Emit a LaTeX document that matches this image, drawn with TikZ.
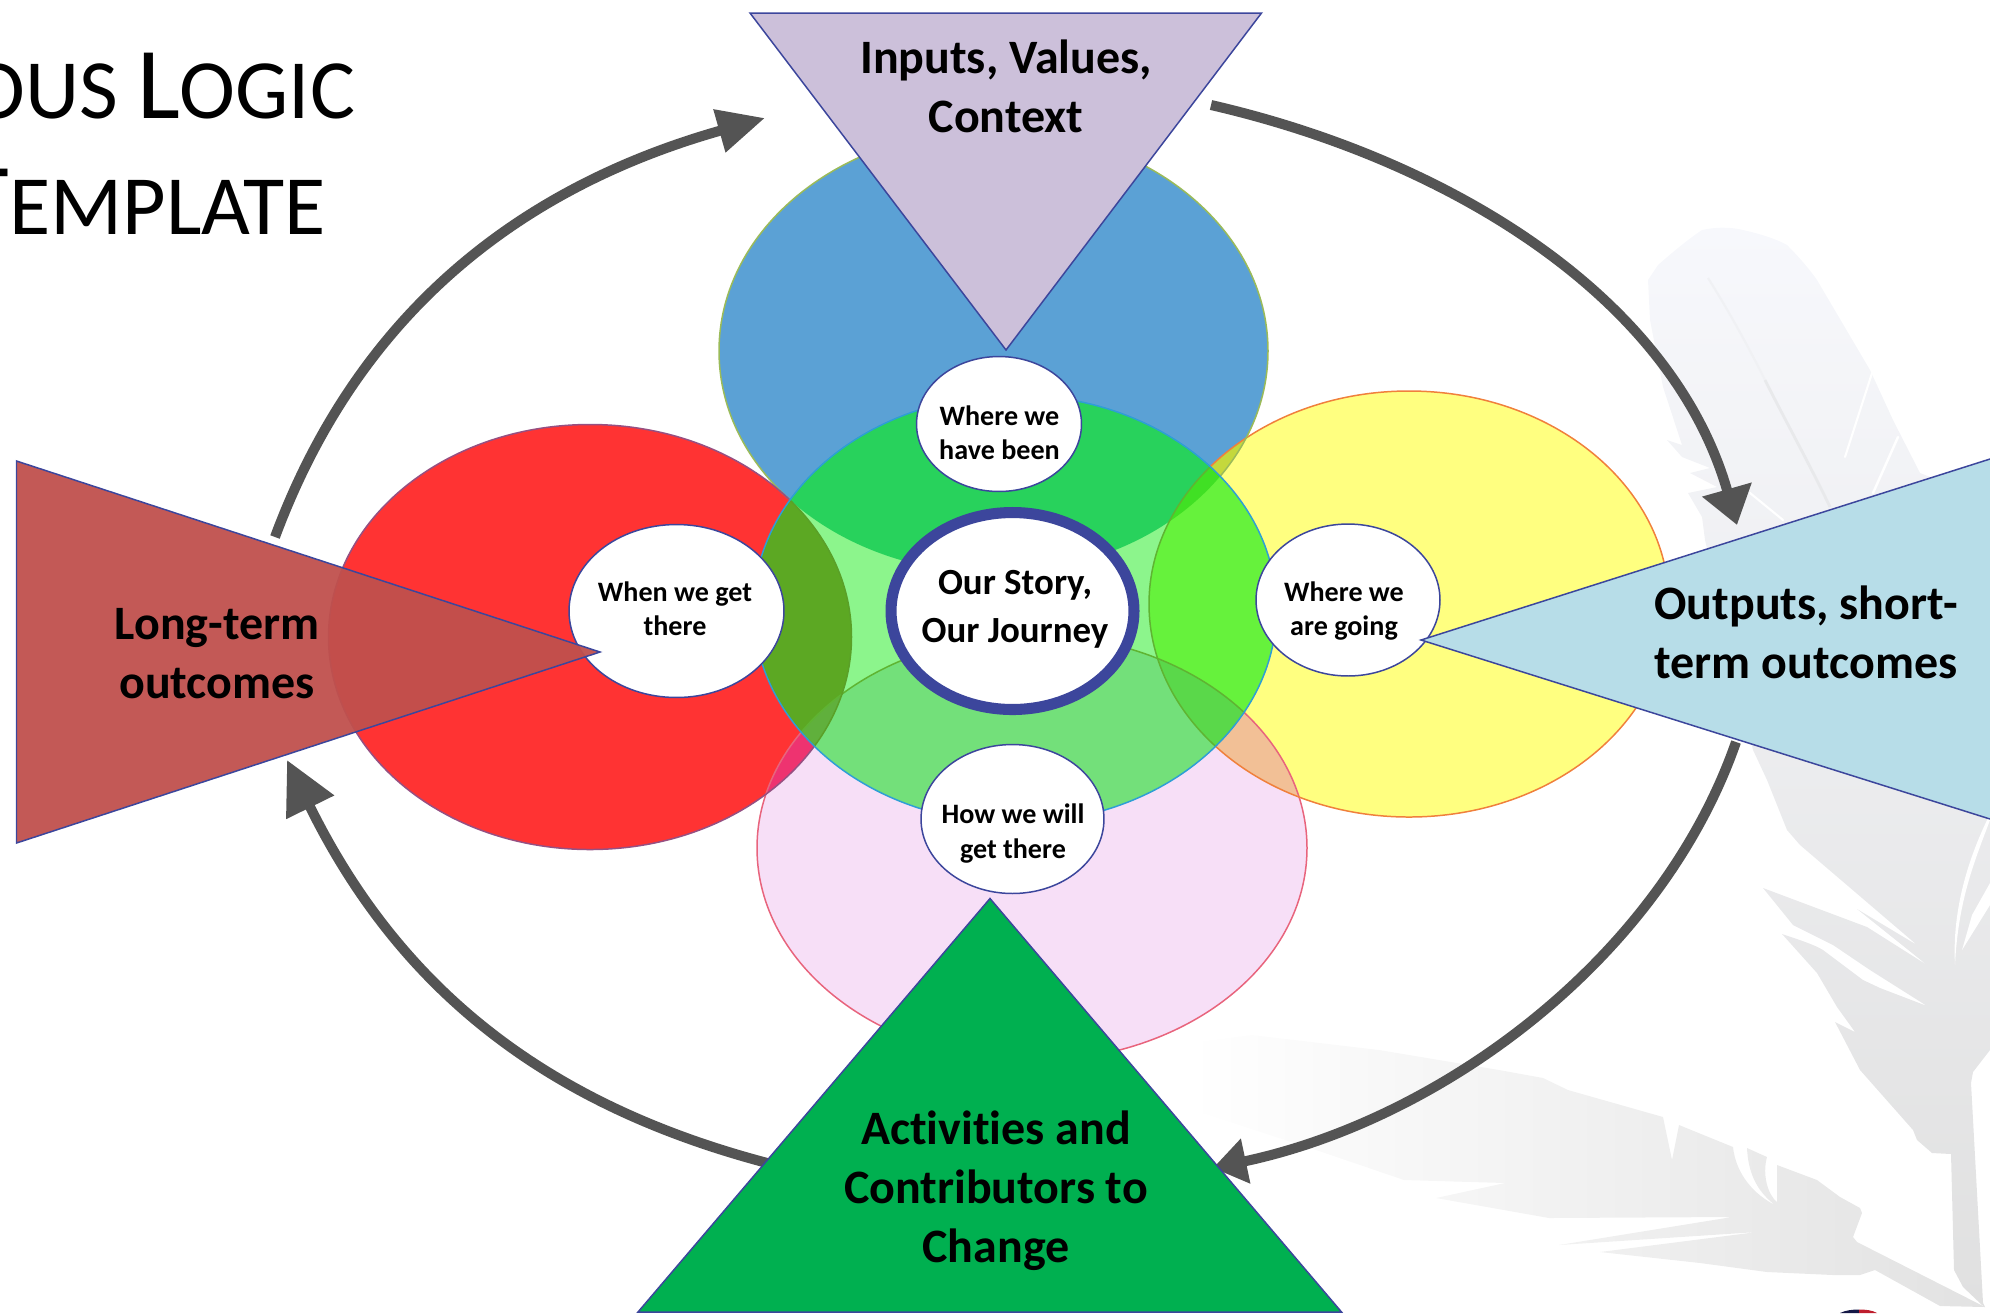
\documentclass[tikz,border=0pt]{standalone}
\usepackage{fontspec}
\setmainfont[Ligatures=CommonOff]{Carlito}
\usetikzlibrary{arrows.meta,shapes.geometric}
\definecolor{cPink}{HTML}{F7DFF7}
\definecolor{cYellow}{HTML}{FFFF80}
\definecolor{cBlue}{HTML}{5BA1D5}
\definecolor{cRed}{HTML}{FF3333}
\definecolor{cGreen}{HTML}{8CF58C}
\definecolor{cNavy}{HTML}{3C469C}
\definecolor{cArrow}{HTML}{545454}
\definecolor{fTop}{HTML}{F7F8FC}
\definecolor{fMid}{HTML}{E6E6E8}
\definecolor{fBot}{HTML}{E0E0E0}
\definecolor{fShaft}{HTML}{F0F1F4}
\definecolor{fShaftB}{HTML}{E8E9EB}
\definecolor{gLeft}{HTML}{FFFFFF}
\definecolor{gMid}{HTML}{F4F4F4}
\definecolor{gRight}{HTML}{E2E2E2}
\definecolor{logoA}{HTML}{141846}
\definecolor{logoB}{HTML}{BE1E2D}
\definecolor{ovPY}{HTML}{F2C096}
\definecolor{ovPR}{HTML}{EE3370}
\definecolor{ovBY}{HTML}{C4D83C}
\definecolor{edPink}{HTML}{E8647D}
\definecolor{edYellow}{HTML}{F0803C}
\definecolor{edBlue}{HTML}{9BBB59}
\definecolor{edRed}{HTML}{965082}
\definecolor{edGreen}{HTML}{2E9ED6}
\definecolor{gnP}{HTML}{73E07A}
\definecolor{gnB}{HTML}{28D25C}
\definecolor{gnY}{HTML}{66F23C}
\definecolor{gnYP}{HTML}{5AD84A}
\definecolor{gnYB}{HTML}{40E024}
\definecolor{gnR}{HTML}{5CA823}
\definecolor{gnRP}{HTML}{60B03C}
\definecolor{gnEdge}{HTML}{5FB432}
\definecolor{gnEdgeR}{HTML}{5AA028}
\definecolor{triLilac}{HTML}{CCC0DA}
\definecolor{triRed}{HTML}{C0504D}
\definecolor{triSky}{HTML}{B7DDE8}
\definecolor{triGreen}{HTML}{00B050}
\def\elPink{(1032,848) ellipse [x radius=275,y radius=213]}
\def\elYellow{(1409,604) ellipse [x radius=260,y radius=213]}
\def\elBlue{(993.5,351) ellipse [x radius=274.5,y radius=222]}
\def\elRed{(590,637) ellipse [x radius=261.5,y radius=212.5]}
\def\elGreen{(1015,609) ellipse [x radius=261.5,y radius=214]}
\tikzset{
  thinedge/.style={line width=0.85pt},
  tri/.style={draw=cNavy,line width=0.85pt,line join=miter},
  flow/.style={draw=cArrow,line width=5.7pt},
  bubble/.style={ellipse,draw=cNavy,fill=white,line width=0.85pt,inner sep=0pt},
  bigtxt/.style={align=center,inner sep=0pt,font=\fontsize{27.3}{33.6}\selectfont\bfseries},
  midtxt/.style={align=center,inner sep=0pt,font=\fontsize{21}{27.4}\selectfont\bfseries},
  smalltxt/.style={align=center,inner sep=0pt,font=\fontsize{16}{19.4}\selectfont\bfseries},
  slit/.style={draw=white,line cap=round}
}
\begin{document}
\begin{tikzpicture}[x=0.02cm,y=-0.02cm]
\useasboundingbox (0,0) rectangle (1990,1313);
\clip (0,0) rectangle (1990,1313);
% feathers
\path[top color=fTop,middle color=fMid,bottom color=fBot]
  (1648,280) -- (1658,265) .. controls (1675,250) and (1690,238) .. (1702,230)
  .. controls (1720,226) and (1735,228) .. (1743,230) .. controls (1765,235) and (1778,240) .. (1787,245)
  .. controls (1800,258) and (1810,270) .. (1817,280) -- (1870,370) -- (1893,420) -- (1920,473) -- (1990,500)
  -- (1990,1050) -- (1973,1072) -- (1971,1083) -- (1983,1303) -- (1985,1307) -- (1982,1305) -- (1963,1287) -- (1954,1270)
  -- (1951,1154) -- (1932,1153) -- (1917,1140) -- (1913,1130) -- (1860,1070) -- (1835,1022) -- (1855,1032) -- (1837,1007)
  -- (1817,973) -- (1782,934) .. controls (1800,940) and (1815,945) .. (1823,950) -- (1863,980) -- (1880,988) -- (1927,1006)
  -- (1870,970) -- (1833,945) -- (1793,925) -- (1763,888) -- (1867,927) -- (1927,965) -- (1857,909) -- (1917,945)
  -- (1800,845) -- (1787,830) -- (1767,780) -- (1753,750) -- (1705,540) -- (1702,517) -- (1688,493) -- (1717,487) -- (1690,473)
  -- (1710,468) -- (1682,457) -- (1667,440) -- (1682,445) -- (1663,387) -- (1650,320) -- cycle;
\draw[slit,line width=1.2pt] (1872,373) -- (1845,457);
\draw[slit,line width=1.4pt] (1898,437) -- (1873,493);
\draw[slit,line width=1.2pt] (1750,493) -- (1783,520);
\fill[white] (1990,820) .. controls (1975,860) and (1958,900) .. (1955,965) .. controls (1953,930) and (1958,880) .. (1988,818) -- cycle;
\fill[white] (1990,883) -- (1972,915) -- (1962,950) -- (1990,905) -- cycle;
\draw[draw=fShaft,line width=1.2pt] (1708,278) .. controls (1725,305) and (1745,340) .. (1765,380);
\draw[draw=fShaftB,line width=1.6pt] (1765,380) .. controls (1785,420) and (1810,465) .. (1830,507);
\path[left color=gLeft,middle color=gMid,right color=gRight]
  (1189,1043) -- (1252,1035) -- (1379,1050) -- (1499,1070) -- (1543,1078) -- (1568,1090) -- (1663,1117) -- (1672,1160) -- (1679,1125)
  -- (1733,1147) .. controls (1736,1175) and (1755,1195) .. (1775,1205) .. controls (1755,1190) and (1748,1170) .. (1747,1148)
  -- (1767,1157) .. controls (1762,1175) and (1768,1195) .. (1777,1202) -- (1777,1165) -- (1817,1180) -- (1840,1197) -- (1860,1208)
  -- (1862,1213) -- (1853,1237) -- (1857,1242) -- (1985,1307) -- (1940,1306) -- (1875,1270) -- (1860,1275) -- (1833,1275)
  -- (1767,1272) -- (1700,1263) -- (1600,1252) -- (1757,1232) -- (1559,1245) -- (1732,1217) -- (1549,1218) -- (1436,1198)
  -- (1505,1183) -- (1404,1180) -- (1316,1150) -- (1202,1113) -- cycle;
% cut-off logo at the foot of the page
\fill[logoA] (1840,1313) .. controls (1846,1310) and (1853,1309.5) .. (1859,1309.5) -- (1859,1313) -- cycle;
\fill[logoB] (1859,1313) -- (1859,1309.5) .. controls (1865,1309.5) and (1872,1310) .. (1877,1313) -- cycle;
% base ellipses
\fill[cPink] \elPink;
\fill[cYellow] \elYellow;
\fill[cBlue] \elBlue;
\fill[cRed] \elRed;
\begin{scope}\clip \elPink; \fill[ovPY] \elYellow; \fill[ovPR] \elRed; \end{scope}
\begin{scope}\clip \elBlue; \fill[ovBY] \elYellow; \end{scope}
\draw[thinedge,draw=edPink] \elPink;
\draw[thinedge,draw=edYellow] \elYellow;
\draw[thinedge,draw=edBlue] \elBlue;
\draw[thinedge,draw=edRed] \elRed;
% overlaps inside the central ellipse
\begin{scope}
  \clip \elGreen;
  \fill[cGreen] \elGreen;
  \fill[gnP] \elPink;
  \fill[gnB] \elBlue;
  \fill[gnY] \elYellow;
  \begin{scope}\clip \elYellow; \fill[gnYP] \elPink; \fill[gnYB] \elBlue; \end{scope}
  \fill[gnR] \elRed;
  \begin{scope}\clip \elRed; \fill[gnRP] \elPink; \end{scope}
  \draw[thinedge,draw=gnEdge] \elPink;
  \draw[thinedge,draw=gnEdge] \elYellow;
  \draw[thinedge,draw=gnEdgeR] \elRed;
\end{scope}
\draw[thinedge,draw=edGreen] \elGreen;
% white bubbles
\node[bubble,minimum width=3.30cm,minimum height=2.70cm] (been) at (999,424) {};
\node[bubble,minimum width=3.66cm,minimum height=2.98cm] (will) at (1012.5,819) {};
\node[bubble,minimum width=3.68cm,minimum height=3.04cm] (going) at (1348,600) {};
\node[bubble,minimum width=4.30cm,minimum height=3.46cm] (when) at (676.5,611) {};
\node[ellipse,draw=cNavy,fill=white,line width=6.3pt,inner sep=0pt,minimum width=4.86cm,minimum height=3.94cm] (story) at (1012.5,611) {};
% named ends of the flow arrows
\coordinate (ltS) at (275,537);
\coordinate (ltE) at (765,118);
\coordinate (rtS) at (1211,105);
\coordinate (rtE) at (1737,525);
\coordinate (rbS) at (1736,742);
\coordinate (rbE) at (1213,1168);
\coordinate (lbS) at (775,1165);
\coordinate (lbE) at (287,760);
\draw[flow,-{Triangle[length=27pt,width=24pt]}] (ltS) .. controls (363,300) and (535,183) .. (ltE);
\draw[flow,-{Triangle[length=21pt,width=28pt]}] (rtS) .. controls (1450,160) and (1672,297) .. (rtE);
\draw[flow,-{Triangle[length=19pt,width=25pt]}] (rbS) .. controls (1660,960) and (1440,1120) .. (rbE);
\draw[flow,-{Triangle[length=30pt,width=29pt]}] (lbS) .. controls (560,1110) and (405,1000) .. (lbE);
% triangles
\draw[tri,fill=triLilac] (750,13) -- (1261.5,13) -- (1006,350) -- cycle;
\fill[triRed,fill opacity=0.95] (16.5,461) -- (600,652) -- (16.5,843) -- cycle;
\draw[tri] (16.5,461) -- (600,652) -- (16.5,843) -- cycle;
\draw[tri,fill=triSky] (1990,459) -- (1421,640) -- (1990,819);
\draw[tri,fill=triGreen] (990,898.5) -- (1341.5,1312) -- (638,1312) -- cycle;
% texts
\node[bigtxt] (inputs) at (1006,86) {Inputs, Values,\\Context};
\node[bigtxt] (longterm) at (217,654) {Long-term\\outcomes};
\node[bigtxt] (outputs) at (1806,632) {Outputs, short-\\term outcomes};
\node[bigtxt] (activities) at (996,1190.5) {Activities and\\Contributors to\\Change};
\node[midtxt] (storytxt) at (1015,609.5) {Our Story,\\Our Journey};
\node[smalltxt] (beentxt) at (999.5,433) {Where we\\have been};
\node[smalltxt] (willtxt) at (1013,833.5) {How we will\\get there};
\node[smalltxt] (goingtxt) at (1344,611) {Where we\\are going};
\node[smalltxt] (whentxt) at (675,608.5) {When we get\\there};
\node[anchor=base east,inner sep=0pt,font=\fontsize{48}{48}\selectfont] (titleA) at (355.5,118) {OUS {\fontsize{58}{58}\selectfont L}OGIC};
\node[anchor=base east,inner sep=0pt,font=\fontsize{48}{48}\selectfont] (titleB) at (326.5,234) {{\fontsize{58}{58}\selectfont T}EMPLATE};
\end{tikzpicture}
\end{document}
